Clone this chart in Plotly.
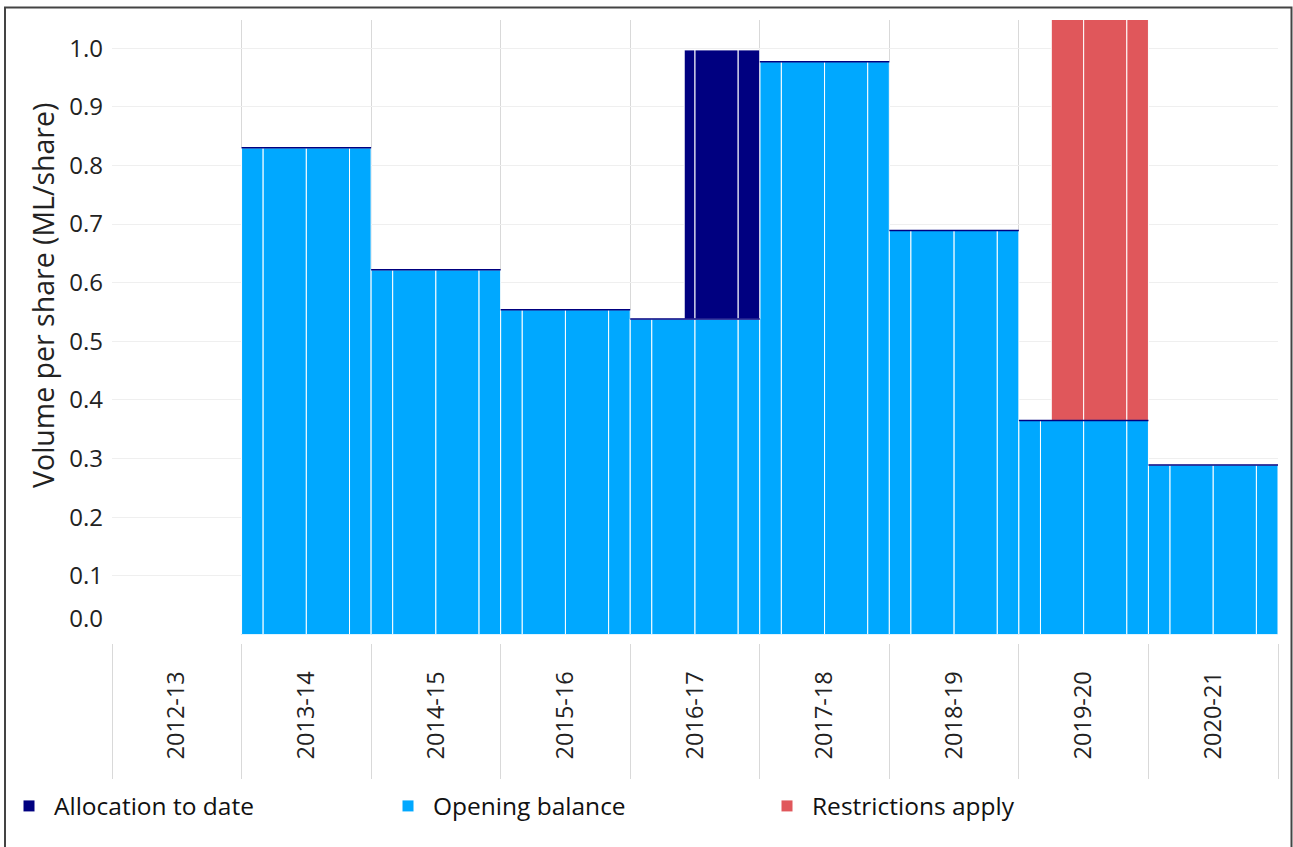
import plotly.graph_objects as go

# ---------------- data ----------------
years = ['2012-13', '2013-14', '2014-15', '2015-16', '2016-17',
         '2017-18', '2018-19', '2019-20', '2020-21']
opening_balance = [None, 0.83, 0.622, 0.554, 0.538, 0.977, 0.689, 0.365, 0.289]
# allocation on top of opening balance (ML/share) and month it started
allocation_to_date = [None, 0, 0, 0, 0.459, 0, 0, 0, 0]
allocation_start_month = [0, 0, 0, 0, 5, 0, 0, 0, 0]
# restriction band (from opening balance upward) and month it started
restrictions_top = [None, None, None, None, None, None, None, 1.1, None]
restrictions_start_month = [0, 0, 0, 0, 0, 0, 0, 3, 0]
# reporting periods within each water year (months from 1 July)
period_start = [0, 2, 6, 10]
period_end = [2, 6, 10, 12]

BLUE = '#00A8FF'
NAVY = '#000080'
RED = '#E0575B'
FONT = 'Open Sans'


def segments(i, start_month):
    xs, ws = [], []
    for s, e in zip(period_start, period_end):
        s2 = max(s, start_month)
        if s2 >= e:
            continue
        xs.append(i + s2 / 12)
        ws.append((e - s2) / 12)
    return xs, ws


ob_x, ob_w, ob_y = [], [], []
al_x, al_w, al_y, al_b = [], [], [], []
rs_x, rs_w, rs_y, rs_b = [], [], [], []
top_x, top_y = [], []
for i, ob in enumerate(opening_balance):
    if ob is None:
        continue
    xs, ws = segments(i, 0)
    ob_x += xs; ob_w += ws; ob_y += [ob] * len(xs)
    top_x += [i, i + 1, None]; top_y += [ob, ob, None]
    if allocation_to_date[i]:
        xs, ws = segments(i, allocation_start_month[i])
        al_x += xs; al_w += ws
        al_y += [allocation_to_date[i]] * len(xs); al_b += [ob] * len(xs)
    if restrictions_top[i] is not None:
        xs, ws = segments(i, restrictions_start_month[i])
        rs_x += xs; rs_w += ws
        rs_y += [restrictions_top[i] - ob] * len(xs); rs_b += [ob] * len(xs)

fig = go.Figure()
fig.add_trace(go.Bar(x=ob_x, y=ob_y, width=ob_w, offset=0, name='Opening balance',
                     marker=dict(color=BLUE, line=dict(color='white', width=1)),
                     legendrank=2))
fig.add_trace(go.Bar(x=al_x, y=al_y, base=al_b, width=al_w, offset=0, name='Allocation to date',
                     marker=dict(color=NAVY, line=dict(color='white', width=1)),
                     legendrank=1))
fig.add_trace(go.Bar(x=rs_x, y=rs_y, base=rs_b, width=rs_w, offset=0, name='Restrictions apply',
                     marker=dict(color=RED, line=dict(color='white', width=1)),
                     legendrank=3))
# thin navy edge on top of each opening balance (drawn on the overlay axis)
fig.add_trace(go.Scatter(x=top_x, y=top_y, mode='lines', line=dict(color=NAVY, width=1.5),
                         xaxis='x2', showlegend=False, hoverinfo='skip'))

n = len(years)
ytick_vals = [round(v * 0.1, 1) for v in range(11)]
ytick_text = [f'{v:.1f}' for v in ytick_vals]
ytick_text[0] = '0.0<br> '

PB = 643   # pixel y of paper bottom
PH = 623   # paper height in px
PL = 112   # plot left px
PW = 1166  # plot width px

fig.update_layout(
    width=1293, height=847,
    margin=dict(l=112, r=15, t=20, b=204, autoexpand=False),
    paper_bgcolor='white', plot_bgcolor='white',
    barmode='overlay',
    font=dict(family=FONT, size=22, color='#222'),
    xaxis=dict(range=[0, n], tickmode='array',
               tickvals=[i + 0.5 for i in range(n)], ticktext=years,
               tickangle=-90, ticks='', showgrid=False, zeroline=False,
               tickfont=dict(size=23.5, color='#222'), ticklabelstandoff=31,
               automargin=False,
               minor=dict(tickmode='array', tickvals=list(range(n + 1)),
                          showgrid=True, gridcolor='#d9d9d9', gridwidth=1, ticks='')),
    xaxis2=dict(overlaying='x', anchor='free', position=0, range=[0, n],
                tickmode='array', tickvals=list(range(n + 1)), ticks='outside',
                ticklen=135, tickcolor='#d9d9d9', tickwidth=1, automargin=False,
                showticklabels=False, showgrid=False, zeroline=False, showline=False),
    yaxis=dict(range=[0, 1.048], domain=[8.5 / PH, 1], tickmode='array',
               tickvals=ytick_vals, ticktext=ytick_text, showgrid=True,
               gridcolor='#efefef', zeroline=False, ticks='', automargin=False,
               tickfont=dict(size=24, color='#222'), ticklabelstandoff=8),
    legend=dict(orientation='h', xref='paper', yref='paper',
                x=(4 - PL) / PW, y=(PB - 806) / PH, xanchor='left', yanchor='middle',
                itemwidth=40, entrywidth=324, entrywidthmode='pixels',
                bgcolor='rgba(0,0,0,0)',
                font=dict(size=24.5, color='#111'), traceorder='normal'),
    annotations=[dict(text='Volume per share (ML/share)', textangle=-90,
                      xref='paper', yref='paper', x=(43 - PL) / PW, y=(PB - 296) / PH,
                      xanchor='center', yanchor='middle', showarrow=False,
                      font=dict(size=28.5, color='#222'))],
    shapes=[dict(type='rect', xref='paper', yref='paper',
                 x0=(5 - PL) / PW, x1=(1291.5 - PL) / PW,
                 y0=(PB - 870) / PH, y1=(PB - 7.5) / PH,
                 line=dict(color='#444', width=2), fillcolor='rgba(0,0,0,0)',
                 layer='above')],
)

fig.write_html('out.html', config={'displayModeBar': False},
               post_script="document.body.style.margin='0';")
